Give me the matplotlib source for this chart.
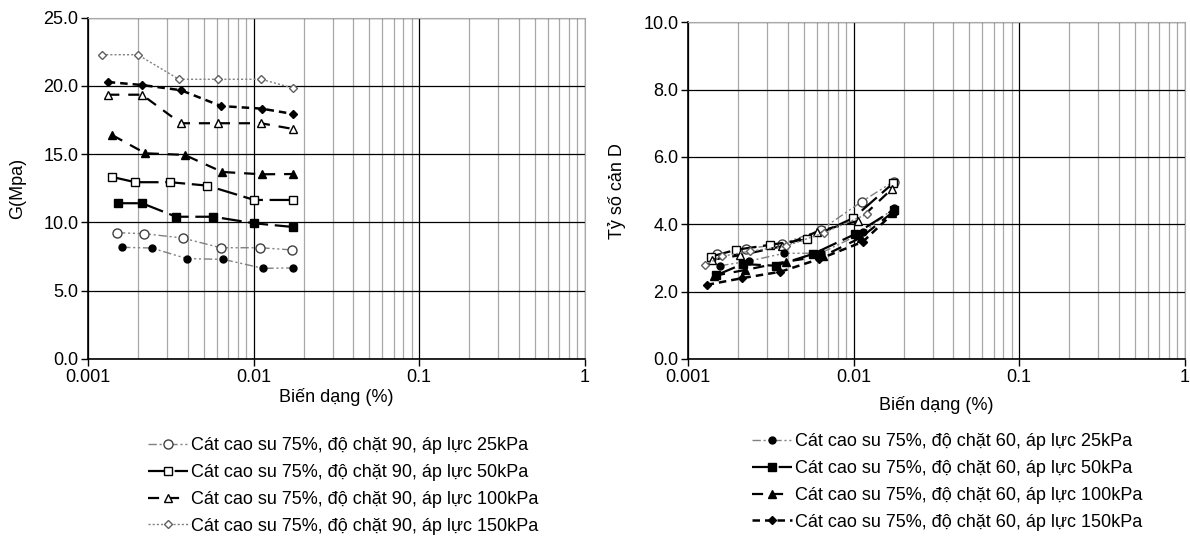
import numpy as np
import matplotlib.pyplot as plt
from matplotlib.ticker import LogLocator, FixedLocator, FuncFormatter

plt.rcParams['font.family'] = ['Liberation Sans', 'DejaVu Sans']
plt.rcParams['font.size'] = 13

# ---- du lieu bieu do G (trai) ----
x_g_25_90 = [0.00149, 0.00218, 0.00372, 0.00631, 0.01095, 0.0170]
g_25_90 = [9.25, 9.18, 8.86, 8.15, 8.15, 7.99]
x_g_25_60 = [0.00160, 0.00242, 0.00395, 0.00654, 0.01137, 0.01726]
g_25_60 = [8.18, 8.13, 7.35, 7.30, 6.64, 6.67]
x_g_50_90 = [0.00140, 0.00192, 0.00313, 0.00524, 0.01007, 0.01726]
g_50_90 = [13.33, 12.95, 12.95, 12.70, 11.65, 11.65]
x_g_50_60 = [0.00151, 0.00211, 0.00340, 0.00569, 0.01007, 0.01726]
g_50_60 = [11.41, 11.41, 10.42, 10.42, 9.94, 9.67]
x_g_100_90 = [0.00132, 0.00211, 0.00362, 0.00605, 0.01105, 0.01726]
g_100_90 = [19.36, 19.36, 17.27, 17.27, 17.27, 16.85]
x_g_100_60 = [0.00140, 0.00221, 0.00382, 0.00645, 0.01121, 0.01726]
g_100_60 = [16.39, 15.07, 14.95, 13.70, 13.53, 13.55]
x_g_150_90 = [0.00121, 0.00199, 0.00353, 0.00611, 0.01110, 0.01726]
g_150_90 = [22.29, 22.29, 20.49, 20.49, 20.49, 19.85]
x_g_150_60 = [0.00131, 0.00211, 0.00363, 0.00634, 0.01116, 0.01726]
g_150_60 = [20.29, 20.07, 19.69, 18.53, 18.34, 17.95]

# ---- du lieu bieu do D (phai) ----
x_d_25_90 = [0.00150, 0.00223, 0.00370, 0.00630, 0.01115, 0.01740]
d_25_90 = [3.12, 3.27, 3.42, 3.83, 4.67, 5.27]
x_d_25_60 = [0.00156, 0.00234, 0.00380, 0.00630, 0.01145, 0.01745]
d_25_60 = [2.77, 2.91, 3.14, 3.14, 3.76, 4.48]
x_d_50_90 = [0.00137, 0.00193, 0.00310, 0.00520, 0.00990, 0.01730]
d_50_90 = [3.04, 3.24, 3.39, 3.55, 4.18, 5.22]
x_d_50_60 = [0.00148, 0.00213, 0.00337, 0.00568, 0.01020, 0.01740]
d_50_60 = [2.49, 2.82, 2.77, 3.12, 3.71, 4.43]
x_d_100_90 = [0.00140, 0.00205, 0.00370, 0.00600, 0.01060, 0.01700]
d_100_90 = [2.95, 3.08, 3.35, 3.78, 4.10, 5.05]
x_d_100_60 = [0.00143, 0.00219, 0.00388, 0.00655, 0.01100, 0.01700]
d_100_60 = [2.47, 2.64, 2.89, 3.06, 3.60, 4.34]
x_d_150_90 = [0.00126, 0.00160, 0.00235, 0.00390, 0.00660, 0.01200]
d_150_90 = [2.79, 3.05, 3.20, 3.35, 3.75, 4.30]
x_d_150_60 = [0.00129, 0.00211, 0.00360, 0.00620, 0.01134, 0.01740]
d_150_60 = [2.20, 2.40, 2.59, 2.97, 3.48, 4.34]

nhan_90 = ['Cát cao su 75%, độ chặt 90, áp lực 25kPa',
           'Cát cao su 75%, độ chặt 90, áp lực 50kPa',
           'Cát cao su 75%, độ chặt 90, áp lực 100kPa',
           'Cát cao su 75%, độ chặt 90, áp lực 150kPa']
nhan_60 = ['Cát cao su 75%, độ chặt 60, áp lực 25kPa',
           'Cát cao su 75%, độ chặt 60, áp lực 50kPa',
           'Cát cao su 75%, độ chặt 60, áp lực 100kPa',
           'Cát cao su 75%, độ chặt 60, áp lực 150kPa']

# kieu duong cho tung loat
kieu_90 = [
    dict(color='#808080', dashes=(6, 2, 1.5, 2, 1.5, 2), lw=1.0, marker='o', mfc='white', mec='#404040', ms=6.5),
    dict(color='black', dashes=(9, 3), lw=1.6, marker='s', mfc='white', mec='black', ms=5.5),
    dict(color='black', dashes=(5, 4), lw=1.6, marker='^', mfc='white', mec='black', ms=5.5),
    dict(color='#808080', dashes=(1.5, 1.5), lw=1.0, marker='D', mfc='white', mec='#606060', ms=4.5),
]
kieu_60 = [
    dict(color='#808080', dashes=(6, 2, 1.5, 2, 1.5, 2), lw=1.0, marker='o', mfc='black', mec='black', ms=5),
    dict(color='black', dashes=(9, 3), lw=1.6, marker='s', mfc='black', mec='black', ms=5.5),
    dict(color='black', dashes=(5, 4), lw=1.6, marker='^', mfc='black', mec='black', ms=5.5),
    dict(color='black', dashes=(3, 2), lw=1.8, marker='D', mfc='black', mec='black', ms=4),
]

fig = plt.figure(figsize=(11.9, 5.37), dpi=100)
ax1 = fig.add_axes([0.0742, 0.3315, 0.4171, 0.6355])
ax2 = fig.add_axes([0.5784, 0.3315, 0.4171, 0.6270])


def ve_truc(ax, ymax, ystep, ylabel, ylab_x, xlab_y):
    ax.set_xscale('log')
    ax.set_xlim(0.001, 1)
    ax.set_ylim(0, ymax)
    ax.yaxis.set_major_locator(FixedLocator(np.arange(0, ymax + 0.01, ystep)))
    ax.yaxis.set_major_formatter(FuncFormatter(lambda v, p: '%.1f' % v))
    ax.xaxis.set_major_locator(FixedLocator([0.001, 0.01, 0.1, 1]))
    ax.xaxis.set_major_formatter(FuncFormatter(lambda v, p: '%g' % v))
    ax.xaxis.set_minor_locator(LogLocator(base=10, subs=np.arange(2, 10)))
    ax.xaxis.set_minor_formatter(FuncFormatter(lambda v, p: ''))
    ax.grid(True, which='major', axis='both', color='black', lw=0.9)
    ax.grid(True, which='minor', axis='x', color='#a8a8a8', lw=0.9)
    ax.tick_params(axis='both', which='major', direction='out', length=5, width=1, pad=2)
    ax.tick_params(axis='x', which='minor', length=0)
    for s in ['top', 'right']:
        ax.spines[s].set_color('#a8a8a8')
    ax.spines['left'].set_linewidth(1.2)
    ax.spines['bottom'].set_linewidth(1.2)
    ax.set_axisbelow(True)
    ax.set_ylabel(ylabel)
    ax.set_xlabel('Biến dạng (%)')
    ax.yaxis.set_label_coords(ylab_x, 0.5)
    ax.xaxis.set_label_coords(0.5, xlab_y)


ve_truc(ax1, 25, 5, 'G(Mpa)', -0.125, -0.085)
ve_truc(ax2, 10, 2, 'Tỷ số cản D', -0.125, -0.11)

g90 = [(x_g_25_90, g_25_90), (x_g_50_90, g_50_90), (x_g_100_90, g_100_90), (x_g_150_90, g_150_90)]
g60 = [(x_g_25_60, g_25_60), (x_g_50_60, g_50_60), (x_g_100_60, g_100_60), (x_g_150_60, g_150_60)]
d90 = [(x_d_25_90, d_25_90), (x_d_50_90, d_50_90), (x_d_100_90, d_100_90), (x_d_150_90, d_150_90)]
d60 = [(x_d_25_60, d_25_60), (x_d_50_60, d_50_60), (x_d_100_60, d_100_60), (x_d_150_60, d_150_60)]

h1 = []
for (xs, ys), k, lab in zip(g90, kieu_90, nhan_90):
    l, = ax1.plot(xs, ys, label=lab, **k)
    h1.append(l)
for (xs, ys), k in zip(g60, kieu_60):
    ax1.plot(xs, ys, **k)

h2 = []
for (xs, ys), k in zip(d90, kieu_90):
    ax2.plot(xs, ys, **k)
for (xs, ys), k, lab in zip(d60, kieu_60, nhan_60):
    l, = ax2.plot(xs, ys, label=lab, **k)
    h2.append(l)

fig.legend(handles=h1, loc='upper left', bbox_to_anchor=(148 / 1190, 1 - 437 / 537),
           frameon=False, borderpad=0, handlelength=2.2, handletextpad=0.2,
           labelspacing=0.55, borderaxespad=0, fontsize=13)
fig.legend(handles=h2, loc='upper left', bbox_to_anchor=(752 / 1190, 1 - 433 / 537),
           frameon=False, borderpad=0, handlelength=2.2, handletextpad=0.2,
           labelspacing=0.55, borderaxespad=0, fontsize=13)

fig.savefig('out.png', dpi=100)
